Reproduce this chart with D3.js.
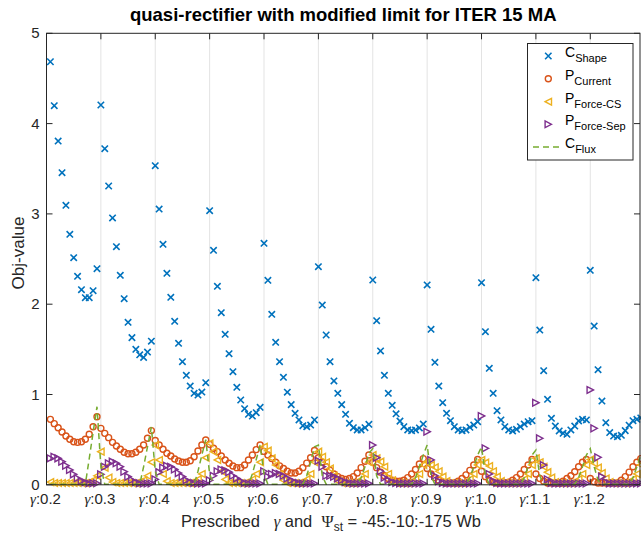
<!DOCTYPE html>
<html><head><meta charset="utf-8">
<script src="https://cdn.jsdelivr.net/npm/d3@7"></script>
<style>
body{margin:0;background:#fff}
svg{display:block;font-family:"Liberation Sans",Arial,Helvetica,sans-serif}
.pre{white-space:pre}
</style>
</head><body>
<svg id="chart" width="641" height="533"></svg>
<script>
// gamma values (one block of 14 Psi_st values each: -45:-10:-175 Wb)
const gammas = ["0.2","0.3","0.4","0.5","0.6","0.7","0.8","0.9","1.0","1.1","1.2"];
const yTicks = [0,1,2,3,4,5];

// C_Shape
const cShape = [
  null, 4.685, 4.198, 3.807, 3.456, 3.095, 2.774, 2.515, 2.309, 2.161, 2.072, 2.072, 2.150, 2.393,
  4.206, 3.722, 3.309, 2.955, 2.637, 2.320, 2.061, 1.800, 1.630, 1.500, 1.440, 1.410, 1.470, 1.590,
  3.534, 3.054, 2.663, 2.342, 2.076, 1.810, 1.567, 1.363, 1.212, 1.094, 1.013, 0.994, 1.027, 1.131,
  3.035, 2.597, 2.198, 1.906, 1.667, 1.452, 1.253, 1.080, 0.939, 0.843, 0.781, 0.762, 0.798, 0.858,
  2.674, 2.265, 1.888, 1.578, 1.363, 1.190, 1.026, 0.888, 0.792, 0.718, 0.655, 0.643, 0.662, 0.718,
  2.415, 1.991, 1.659, 1.363, 1.150, 1.013, 0.888, 0.781, 0.681, 0.632, 0.607, 0.607, 0.632, 0.670,
  2.268, 1.817, 1.482, 1.212, 1.013, 0.880, 0.786, 0.705, 0.643, 0.607, 0.600, 0.607, 0.630, 0.673,
  2.213, 1.722, 1.357, 1.094, 0.909, 0.792, 0.710, 0.643, 0.607, 0.599, 0.607, 0.637, 0.662, 0.699,
  2.238, 1.696, 1.290, 1.013, 0.821, 0.718, 0.643, 0.607, 0.596, 0.615, 0.643, 0.673, 0.699, 0.710,
  2.294, 1.714, 1.264, 0.947, 0.736, 0.651, 0.596, 0.570, 0.559, 0.607, 0.651, 0.707, 0.725, 0.718,
  2.375, 1.758, 1.275, 0.927, 0.688, 0.579, 0.540, 0.533, 0.548, 0.600, 0.660, 0.710, 0.725, 0.740
];

// P_Current
const pCurrent = [
  null, 0.725, 0.677, 0.632, 0.585, 0.540, 0.504, 0.477, 0.470, 0.477, 0.504, 0.559, 0.643, 0.754,
  0.625, 0.570, 0.522, 0.470, 0.430, 0.393, 0.360, 0.344, 0.344, 0.360, 0.393, 0.440, 0.515, 0.600,
  0.490, 0.440, 0.393, 0.349, 0.319, 0.286, 0.264, 0.249, 0.249, 0.267, 0.311, 0.374, 0.440, 0.496,
  0.448, 0.404, 0.367, 0.319, 0.275, 0.238, 0.208, 0.190, 0.190, 0.219, 0.275, 0.330, 0.390, 0.440,
  0.370, 0.330, 0.290, 0.250, 0.210, 0.180, 0.150, 0.130, 0.130, 0.150, 0.190, 0.240, 0.300, 0.380,
  0.300, 0.250, 0.200, 0.160, 0.120, 0.090, 0.070, 0.060, 0.070, 0.090, 0.130, 0.190, 0.260, 0.330,
  0.250, 0.190, 0.140, 0.100, 0.070, 0.050, 0.040, 0.040, 0.050, 0.080, 0.120, 0.170, 0.230, 0.290,
  0.180, 0.120, 0.080, 0.050, 0.030, 0.020, 0.020, 0.020, 0.040, 0.070, 0.110, 0.160, 0.220, 0.280,
  0.150, 0.090, 0.050, 0.030, 0.020, 0.020, 0.020, 0.030, 0.050, 0.080, 0.120, 0.170, 0.220, 0.280,
  0.120, 0.070, 0.040, 0.020, 0.020, 0.020, 0.017, 0.040, 0.070, 0.100, 0.145, 0.200, 0.250, 0.280,
  0.070, 0.034, 0.020, 0.020, 0.020, 0.020, 0.020, 0.020, 0.050, 0.090, 0.140, 0.200, 0.250, 0.290
];

// P_Force-CS
const pForceCS = [
  null, 0.030, 0.020, 0.020, 0.020, 0.020, 0.020, 0.020, 0.020, 0.020, 0.020, 0.030, 0.050, 0.100,
  0.367, 0.190, 0.080, 0.030, 0.020, 0.020, 0.020, 0.020, 0.020, 0.020, 0.030, 0.050, 0.100, 0.250,
  0.440, 0.275, 0.120, 0.040, 0.020, 0.020, 0.020, 0.020, 0.020, 0.020, 0.030, 0.060, 0.120, 0.300,
  0.460, 0.367, 0.275, 0.150, 0.060, 0.020, 0.020, 0.020, 0.020, 0.020, 0.030, 0.060, 0.120, 0.250,
  0.422, 0.378, 0.293, 0.219, 0.120, 0.050, 0.020, 0.020, 0.020, 0.020, 0.030, 0.060, 0.120, 0.250,
  0.367, 0.310, 0.250, 0.180, 0.100, 0.040, 0.020, 0.020, 0.020, 0.020, 0.030, 0.060, 0.120, 0.250,
  0.330, 0.293, 0.256, 0.200, 0.120, 0.050, 0.020, 0.020, 0.020, 0.020, 0.030, 0.060, 0.120, 0.220,
  0.256, 0.219, 0.194, 0.150, 0.090, 0.040, 0.020, 0.020, 0.020, 0.020, 0.030, 0.060, 0.120, 0.220,
  0.275, 0.245, 0.208, 0.150, 0.090, 0.040, 0.020, 0.020, 0.020, 0.020, 0.030, 0.060, 0.120, 0.220,
  0.293, 0.250, 0.200, 0.140, 0.080, 0.030, 0.020, 0.020, 0.020, 0.020, 0.030, 0.060, 0.120, 0.220,
  0.280, 0.240, 0.190, 0.130, 0.070, 0.030, 0.020, 0.020, 0.020, 0.020, 0.030, 0.060, 0.120, 0.220
];

// P_Force-Sep
const pForceSep = [
  null, 0.293, 0.311, 0.293, 0.256, 0.212, 0.164, 0.116, 0.072, 0.042, 0.028, 0.017, 0.017, 0.017,
  0.116, 0.200, 0.238, 0.256, 0.238, 0.200, 0.145, 0.090, 0.053, 0.028, 0.017, 0.015, 0.015, 0.015,
  0.060, 0.140, 0.190, 0.210, 0.200, 0.170, 0.130, 0.090, 0.050, 0.030, 0.020, 0.015, 0.015, 0.015,
  0.050, 0.100, 0.150, 0.170, 0.160, 0.140, 0.100, 0.070, 0.040, 0.020, 0.015, 0.015, 0.015, 0.015,
  0.150, 0.090, 0.120, 0.130, 0.120, 0.100, 0.070, 0.050, 0.030, 0.020, 0.015, 0.015, 0.015, 0.015,
  0.267, 0.200, 0.100, 0.100, 0.090, 0.070, 0.050, 0.030, 0.020, 0.015, 0.015, 0.015, 0.015, 0.015,
  0.440, 0.300, 0.150, 0.080, 0.050, 0.030, 0.020, 0.015, 0.015, 0.015, 0.015, 0.015, 0.015, 0.015,
  0.588, 0.275, 0.100, 0.040, 0.020, 0.015, 0.015, 0.015, 0.015, 0.015, 0.015, 0.015, 0.015, 0.015,
  0.762, 0.404, 0.120, 0.040, 0.020, 0.015, 0.015, 0.015, 0.015, 0.015, 0.015, 0.015, 0.015, 0.015,
  0.909, 0.515, 0.219, 0.060, 0.020, 0.015, 0.015, 0.015, 0.015, 0.015, 0.015, 0.015, 0.015, 0.015,
  1.050, 0.625, 0.304, 0.090, 0.030, 0.015, 0.015, 0.015, 0.015, 0.015, 0.015, 0.015, 0.015, 0.015
];

// C_Flux
const cFlux = [
  null, 0.005, 0.005, 0.005, 0.005, 0.005, 0.005, 0.005, 0.005, 0.005, 0.005, 0.290, 0.580, 0.865,
  0.200, 0.005, 0.005, 0.005, 0.005, 0.005, 0.005, 0.005, 0.005, 0.005, 0.005, 0.200, 0.420, 0.640,
  0.150, 0.005, 0.005, 0.005, 0.005, 0.005, 0.005, 0.005, 0.005, 0.005, 0.005, 0.150, 0.330, 0.500,
  0.120, 0.005, 0.005, 0.005, 0.005, 0.005, 0.005, 0.005, 0.005, 0.005, 0.005, 0.120, 0.280, 0.440,
  0.120, 0.005, 0.005, 0.005, 0.005, 0.005, 0.005, 0.005, 0.005, 0.005, 0.005, 0.100, 0.250, 0.420,
  0.440, 0.100, 0.005, 0.005, 0.005, 0.005, 0.005, 0.005, 0.005, 0.005, 0.005, 0.080, 0.200, 0.350,
  0.400, 0.100, 0.005, 0.005, 0.005, 0.005, 0.005, 0.005, 0.005, 0.005, 0.005, 0.080, 0.200, 0.330,
  0.440, 0.100, 0.005, 0.005, 0.005, 0.005, 0.005, 0.005, 0.005, 0.005, 0.005, 0.080, 0.200, 0.330,
  0.420, 0.100, 0.005, 0.005, 0.005, 0.005, 0.005, 0.005, 0.005, 0.005, 0.005, 0.080, 0.200, 0.330,
  0.385, 0.100, 0.005, 0.005, 0.005, 0.005, 0.005, 0.005, 0.005, 0.005, 0.005, 0.080, 0.200, 0.330,
  0.400, 0.200, 0.050, 0.005, 0.005, 0.005, 0.005, 0.005, 0.005, 0.005, 0.005, 0.080, 0.200, 0.330
];

const colors = {shape:"#0072BD", current:"#D95319", cs:"#EDB120", sep:"#7E2F8E", flux:"#77AC30"};
const axisColor = "#262626";

const svg = d3.select("#chart");
const L = 46.5, R = 640, T = 33.3, B = 484.8;
const x = d3.scaleLinear().domain([0, 152.8]).range([L, R]);
const y = d3.scaleLinear().domain([0, 5]).range([B, T]);
const tickIdx = gammas.map((g, i) => i * 14);

// vertical grid
svg.append("g").selectAll("line").data(tickIdx).join("line")
  .attr("x1", d => x(d)).attr("x2", d => x(d)).attr("y1", T).attr("y2", B)
  .attr("stroke", "#e3e3e3").attr("stroke-width", 1);

// markers
const pts = arr => arr.map((v, i) => ({i, v})).filter(d => d.v != null);
const mk = svg.append("g");

function drawX(arr, col) {
  const s = 3.2;
  mk.append("g").selectAll("path").data(pts(arr)).join("path")
    .attr("d", d => {const cx = x(d.i), cy = y(d.v);
      return `M${cx-s},${cy-s}L${cx+s},${cy+s}M${cx-s},${cy+s}L${cx+s},${cy-s}`;})
    .attr("stroke", col).attr("stroke-width", 1.6).attr("fill", "none");
}
function drawO(arr, col) {
  mk.append("g").selectAll("circle").data(pts(arr)).join("circle")
    .attr("cx", d => x(d.i)).attr("cy", d => y(d.v)).attr("r", 3)
    .attr("stroke", col).attr("stroke-width", 1.4).attr("fill", "none");
}
function triPath(cx, cy, dir) {
  const a = 3.2, h = 3.4;
  return dir < 0
    ? `M${cx-a},${cy}L${cx+a},${cy-h}L${cx+a},${cy+h}Z`
    : `M${cx+a},${cy}L${cx-a},${cy-h}L${cx-a},${cy+h}Z`;
}
function drawTri(arr, col, dir) {
  mk.append("g").selectAll("path").data(pts(arr)).join("path")
    .attr("d", d => triPath(x(d.i), y(d.v), dir))
    .attr("stroke", col).attr("stroke-width", 1.4).attr("fill", "none")
    .attr("stroke-linejoin", "miter");
}

drawX(cShape, colors.shape);
drawO(pCurrent, colors.current);
drawTri(pForceCS, colors.cs, -1);
drawTri(pForceSep, colors.sep, 1);

const line = d3.line().defined(d => d.v != null).x(d => x(d.i)).y(d => y(d.v));
mk.append("path").datum(cFlux.map((v, i) => ({i, v})))
  .attr("d", line).attr("fill", "none").attr("stroke", colors.flux)
  .attr("stroke-width", 1.5).attr("stroke-dasharray", "6,4");

// axes box
const ax = svg.append("g").attr("stroke", axisColor).attr("stroke-width", 1).attr("fill", "none");
ax.append("rect").attr("x", L).attr("y", T).attr("width", R - L).attr("height", B - T);
// ticks
const tl = 6;
tickIdx.forEach(t => {
  ax.append("line").attr("x1", x(t)).attr("x2", x(t)).attr("y1", B).attr("y2", B - tl);
  ax.append("line").attr("x1", x(t)).attr("x2", x(t)).attr("y1", T).attr("y2", T + tl);
});
yTicks.forEach(t => {
  ax.append("line").attr("x1", L).attr("x2", L + tl).attr("y1", y(t)).attr("y2", y(t));
  ax.append("line").attr("x1", R).attr("x2", R - tl).attr("y1", y(t)).attr("y2", y(t));
});

// tick labels
const tickFont = 15;
svg.append("g").selectAll("text").data(yTicks).join("text")
  .attr("x", L - 7).attr("y", d => y(d) + 5).attr("text-anchor", "end")
  .attr("font-size", tickFont).attr("fill", axisColor).text(d => d);

const xl = svg.append("g").selectAll("text").data(gammas).join("text")
  .attr("x", (d, i) => x(tickIdx[i]) - 1).attr("y", B + 19).attr("text-anchor", "middle")
  .attr("font-size", tickFont).attr("fill", axisColor);
xl.append("tspan").attr("font-family", "'Liberation Serif',serif").attr("font-style", "italic").text("γ");
xl.append("tspan").text(d => ":" + d);

// axis labels
const xlab = svg.append("text").attr("class", "pre").attr("x", 181).attr("y", 527)
  .attr("font-size", 16.5).attr("fill", axisColor);
xlab.append("tspan").text("Prescribed   ");
xlab.append("tspan").attr("font-family", "'Liberation Serif',serif").attr("font-style", "italic").text("γ");
xlab.append("tspan").text(" and  ");
xlab.append("tspan").attr("font-family", "'Liberation Serif',serif").text("Ψ");
xlab.append("tspan").attr("font-size", 12).attr("dy", 4).text("st");
xlab.append("tspan").attr("dy", -4).text(" = -45:-10:-175 Wb");

svg.append("text").attr("transform", `translate(24,253) rotate(-90)`)
  .attr("text-anchor", "middle").attr("font-size", 17).attr("fill", axisColor).text("Obj-value");

svg.append("text").attr("x", (L + R) / 2).attr("y", 21).attr("text-anchor", "middle")
  .attr("font-size", 18.5).attr("font-weight", "bold").attr("fill", "#000")
  .text("quasi-rectifier with modified limit for ITER 15 MA");

// legend
const lg = svg.append("g");
lg.append("rect").attr("x", 527.5).attr("y", 43.5).attr("width", 105.5).attr("height", 116.5)
  .attr("fill", "#fff").attr("stroke", axisColor).attr("stroke-width", 1);
const entries = [
  {main:"C", sub:"Shape", kind:"x", col:colors.shape},
  {main:"P", sub:"Current", kind:"o", col:colors.current},
  {main:"P", sub:"Force-CS", kind:"<", col:colors.cs},
  {main:"P", sub:"Force-Sep", kind:">", col:colors.sep},
  {main:"C", sub:"Flux", kind:"-", col:colors.flux}
];
const rowY = [56, 78.7, 101.7, 124.3, 147];
entries.forEach((e, k) => {
  const cy = rowY[k], cx = 548.3;
  if (e.kind === "x") {
    lg.append("path").attr("d", `M${cx-3.2},${cy-3.2}L${cx+3.2},${cy+3.2}M${cx-3.2},${cy+3.2}L${cx+3.2},${cy-3.2}`)
      .attr("stroke", e.col).attr("stroke-width", 1.6);
  } else if (e.kind === "o") {
    lg.append("circle").attr("cx", cx).attr("cy", cy).attr("r", 3).attr("fill", "none")
      .attr("stroke", e.col).attr("stroke-width", 1.4);
  } else if (e.kind === "<" || e.kind === ">") {
    lg.append("path").attr("d", triPath(cx, cy, e.kind === "<" ? -1 : 1)).attr("fill", "none")
      .attr("stroke", e.col).attr("stroke-width", 1.4);
  } else {
    lg.append("line").attr("x1", 533).attr("x2", 563).attr("y1", cy).attr("y2", cy)
      .attr("stroke", e.col).attr("stroke-width", 1.5).attr("stroke-dasharray", "6,4");
  }
  const t = lg.append("text").attr("x", 565).attr("y", cy + 1).attr("font-size", 14).attr("fill", "#000");
  t.append("tspan").text(e.main);
  t.append("tspan").attr("font-size", 11).attr("dy", 5).text(e.sub);
});
</script>
</body></html>
